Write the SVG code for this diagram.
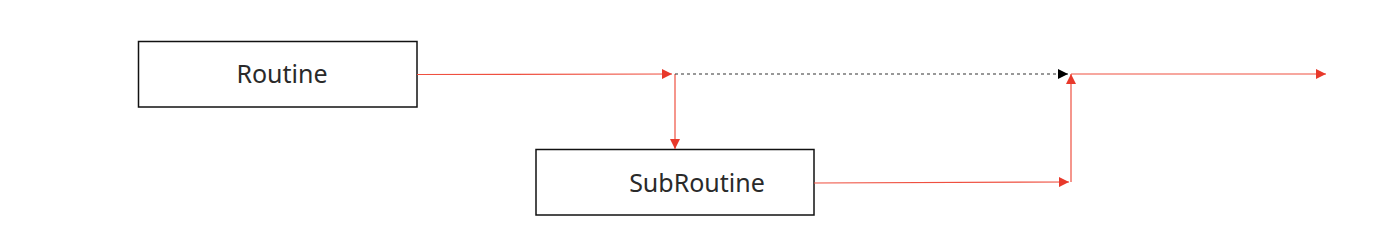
<svg xmlns="http://www.w3.org/2000/svg" width="1398" height="248" viewBox="0 0 1398 248">
<defs>
<style>
.box{fill:#fff;stroke:#111;stroke-width:1.5}
.lbl{font-family:"Noto Sans","Noto Sans CJK KR",sans-serif;font-size:25px;fill:#2a2a2a;text-anchor:middle;dominant-baseline:central}
.red{fill:none;stroke:#ef5040;stroke-width:1.2}
.dash{fill:none;stroke:#333;stroke-width:1.2;stroke-dasharray:3 3}
</style>
<marker id="ar" viewBox="0 0 10 10" refX="10" refY="5" markerWidth="10" markerHeight="10" markerUnits="userSpaceOnUse" orient="auto"><path d="M0,0 L10,5 L0,10 z" fill="#e8392b"/></marker>
<marker id="ak" viewBox="0 0 10 10" refX="10" refY="5" markerWidth="10" markerHeight="10" markerUnits="userSpaceOnUse" orient="auto"><path d="M0,0 L10,5 L0,10 z" fill="#000"/></marker>
</defs>
<rect width="1398" height="248" fill="#fff"/>
<g id="routine"><rect class="box" x="138.5" y="41.5" width="278.5" height="65.5"/><text class="lbl" x="282" y="73">Routine</text></g>
<g id="subroutine"><rect class="box" x="536" y="149.5" width="278" height="65.5"/><text class="lbl" x="697" y="182">SubRoutine</text></g>
<g id="connectors">
<path class="red" d="M417,74.5 L672,74" marker-end="url(#ar)"/>
<path class="red" d="M675,74 L675,149" marker-end="url(#ar)"/>
<path class="dash" d="M675,74 L1068,74" marker-end="url(#ak)"/>
<path class="red" d="M814,183 L1069,182" marker-end="url(#ar)"/>
<path class="red" d="M1071,182 L1071,74" marker-end="url(#ar)"/>
<path class="red" d="M1071,74 L1326,74" marker-end="url(#ar)"/>
</g>
</svg>
